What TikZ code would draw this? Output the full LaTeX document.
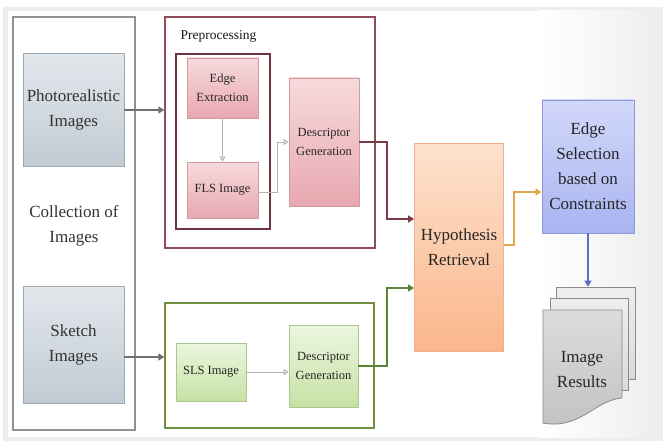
\documentclass[tikz,border=0pt]{standalone}
\usepackage{fontspec}
\setmainfont{Liberation Serif}
\usetikzlibrary{arrows.meta,positioning,calc}
\definecolor{collborder}{HTML}{8E9296}
\definecolor{preborder}{HTML}{8F4C58}
\definecolor{innerborder}{HTML}{6E3440}
\definecolor{greenframe}{HTML}{6E9040}
\definecolor{photoTop}{HTML}{E2E7EC}
\definecolor{photoBot}{HTML}{C2CBD3}
\definecolor{photoBorder}{HTML}{A0A8B0}
\definecolor{pinkTop}{HTML}{F7DADC}
\definecolor{pinkBot}{HTML}{E8A8B0}
\definecolor{pinkBorder}{HTML}{D49AA2}
\definecolor{greenTop}{HTML}{ECF6DE}
\definecolor{greenBot}{HTML}{C6E2A6}
\definecolor{greenBorder}{HTML}{A8C890}
\definecolor{hypTop}{HTML}{FDE2CE}
\definecolor{hypBot}{HTML}{FAB68A}
\definecolor{hypBorder}{HTML}{F0B090}
\definecolor{selTop}{HTML}{D2D8FA}
\definecolor{selBot}{HTML}{A8B4F0}
\definecolor{selBorder}{HTML}{8C98D8}
\definecolor{pageTop}{HTML}{EEEEEE}
\definecolor{pageBot}{HTML}{DADADA}
\definecolor{frontTop}{HTML}{DCDCDC}
\definecolor{frontBot}{HTML}{C2C2C2}
\definecolor{pageBorder}{HTML}{8A8A8A}
\definecolor{grayArrow}{HTML}{707070}
\definecolor{redArrow}{HTML}{7D3B4A}
\definecolor{greenArrow}{HTML}{5F8335}
\definecolor{orangeArrow}{HTML}{E3A64E}
\definecolor{blueArrow}{HTML}{5D6CC0}
\definecolor{thinArrow}{HTML}{B8B0B0}
\definecolor{bgGray}{HTML}{EDEDED}
\tikzset{
  bigtext/.style={font=\fontsize{17}{25}\selectfont, align=center},
  smalltext/.style={font=\fontsize{12.5}{19}\selectfont, align=center, text=black!85},
  photobox/.style={draw=photoBorder, line width=0.8pt, top color=photoTop, bottom color=photoBot, bigtext, text=black!80},
  pinkbox/.style={draw=pinkBorder, line width=0.8pt, top color=pinkTop, bottom color=pinkBot, smalltext},
  greenbox/.style={draw=greenBorder, line width=0.8pt, top color=greenTop, bottom color=greenBot, smalltext},
  frame/.style={draw, fill=white, line width=1.6pt},
  page/.style={draw=pageBorder, line width=0.8pt, top color=pageTop, bottom color=pageBot},
  thickarrow/.style={line width=2.4pt, -{Triangle[length=6pt,width=7pt]}},
  medarrow/.style={line width=2pt, -{Triangle[length=6pt,width=7pt]}},
  thinarrow/.style={draw=thinArrow, line width=1pt, -{Triangle[open,length=5pt,width=6pt]}},
}
\begin{document}
\begin{tikzpicture}[x=1pt,y=-1pt]
\useasboundingbox (0,0) rectangle (663,441);
\fill[white] (0,0) rectangle (663,441);
\fill[bgGray] (3,7) rectangle (663,441);
\fill[white] (8,11) rectangle (540,437);
\shade[left color=white, right color=bgGray] (539.5,11) rectangle (663,437);
% collection
\node[frame, draw=collborder, minimum width=122pt, minimum height=413pt] (coll) at (74,223.5) {};
\node[bigtext, text=black!80] (colltext) at (74,226) {Collection of\\Images};
\node[photobox, minimum width=101pt, minimum height=113pt] (photo) at (73.5,110) {Photorealistic\\Images};
\node[photobox, minimum width=101pt, minimum height=117pt] (sketch) at (73.5,344.5) {Sketch\\Images};
% preprocessing
\node[frame, draw=preborder, line width=1.4pt, minimum width=210pt, minimum height=231pt] (pre) at (270,132.5) {};
\node[anchor=west, font=\fontsize{13.5}{15}\selectfont, text=black!90] (prelabel) at (177,36) {Preprocessing};
\node[draw=innerborder, line width=1.5pt, minimum width=94pt, minimum height=175pt] (inner) at (223,141.5) {};
\node[pinkbox, minimum width=71pt, minimum height=60pt] (edge) at (222.5,88) {Edge\\Extraction};
\node[pinkbox, minimum width=71pt, minimum height=56pt] (fls) at (222.5,190) {FLS Image};
\node[pinkbox, minimum width=70pt, minimum height=128pt] (desc1) at (324,142) {Descriptor\\Generation};
% sketch path
\node[frame, draw=greenframe, line width=1.4pt, minimum width=209pt, minimum height=125pt] (green) at (269.5,365.5) {};
\node[greenbox, minimum width=70pt, minimum height=58pt] (sls) at (211,372) {SLS Image};
\node[greenbox, minimum width=69pt, minimum height=82pt] (desc2) at (323.5,366) {Descriptor\\Generation};
% hypothesis
\node[draw=hypBorder, line width=0.8pt, top color=hypTop, bottom color=hypBot, bigtext, text=black!85, minimum width=89pt, minimum height=208pt] (hyp) at (459,247) {Hypothesis\\Retrieval};
\node[draw=selBorder, line width=0.8pt, top color=selTop, bottom color=selBot, bigtext, text=black!85, minimum width=92pt, minimum height=133pt] (esel) at (588,166.5) {Edge\\Selection\\based on\\Constraints};
% results pages
\node[page, minimum width=79pt, minimum height=92pt] (back) at (595.5,333) {};
\node[page, minimum width=78pt, minimum height=92pt] (mid) at (589,344) {};
\shade[draw=pageBorder, line width=0.8pt, top color=frontTop, bottom color=frontBot]
  (543,310) -- (622,310) -- (622,398) .. controls (595,400) and (580,430) .. (543,423) -- cycle;
\node[bigtext, text=black!85] (restext) at (582,370) {Image\\Results};
% arrows
\draw[thickarrow, grayArrow] (photo.east) -- (photo.east -| pre.west);
\draw[thickarrow, grayArrow] ([yshift=-12.5pt]sketch.east) -- ([yshift=-12.5pt]sketch.east -| green.west);
\draw[thinarrow] (edge.south) -- (fls.north);
\draw[thinarrow] ([yshift=-2pt]fls.east) -- ++(19,0) |- (desc1.west);
\draw[thinarrow] (sls.east) -- (sls.east -| desc2.west);
\draw[medarrow, redArrow] (desc1.east) -- ++(28,0) |- ([yshift=28pt]hyp.west);
\draw[medarrow, greenArrow] (desc2.east) -- ++(29,0) |- ([yshift=-41pt]hyp.west);
\draw[medarrow, orangeArrow] ([yshift=2pt]hyp.east) -- ++(10,0) |- ([yshift=-25.5pt]esel.west);
\draw[medarrow, blueArrow] (esel.south) -- (esel.south |- back.north);
\end{tikzpicture}
\end{document}
